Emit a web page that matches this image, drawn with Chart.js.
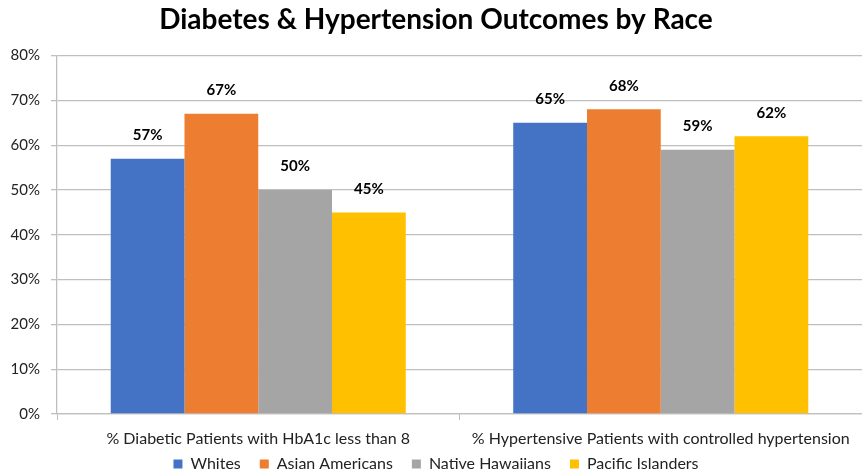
<!DOCTYPE html>
<html>
<head>
<meta charset="utf-8">
<script src="https://cdn.jsdelivr.net/npm/chart.js@4"></script>
<style>
  html, body { margin: 0; padding: 0; background: #fff; }
  #wrap { width: 862px; height: 472px; }
</style>
</head>
<body>
<div id="wrap"><canvas id="chart"></canvas></div>
<script>
// data
const categories = [
    '% Diabetic Patients with HbA1c less than 8',
    '% Hypertensive Patients with controlled hypertension'
];
const seriesNames = ['Whites', 'Asian Americans', 'Native Hawaiians', 'Pacific Islanders'];
const whites = [57, 65];
const asianAmericans = [67, 68];
const nativeHawaiians = [50, 59];
const pacificIslanders = [45, 62];
const seriesColors = ['#4472C4', '#ED7D31', '#A5A5A5', '#FFC000'];
const yTicks = [0, 10, 20, 30, 40, 50, 60, 70, 80];

const FONT = 'Lato, "Liberation Sans", sans-serif';
const values = [whites, asianAmericans, nativeHawaiians, pacificIslanders];

// value labels above each bar
const barLabels = {
    id: 'barLabels',
    afterDatasetsDraw(chart) {
        const ctx = chart.ctx;
        ctx.save();
        ctx.font = 'bold 15px ' + FONT;
        ctx.fillStyle = '#000';
        ctx.textAlign = 'center';
        ctx.textBaseline = 'bottom';
        chart.data.datasets.forEach((ds, i) => {
            chart.getDatasetMeta(i).data.forEach((bar, j) => {
                ctx.fillText(ds.data[j] + '%', bar.x, bar.y - 16);
            });
        });
        ctx.restore();
    }
};

new Chart(document.getElementById('chart'), {
    type: 'bar',
    data: {
        labels: categories,
        datasets: seriesNames.map((name, i) => ({
            label: name,
            data: values[i],
            backgroundColor: seriesColors[i],
            categoryPercentage: 0.733,
            barPercentage: 1.0
        }))
    },
    options: {
        responsive: true,
        maintainAspectRatio: false,
        animation: false,
        layout: { padding: { left: 10, right: 0, top: 0, bottom: -10 } },
        plugins: {
            title: {
                display: true,
                text: 'Diabetes & Hypertension Outcomes by Race',
                color: '#000',
                font: { family: FONT, size: 28, weight: 'bold' },
                padding: { top: 3, bottom: 19 }
            },
            legend: {
                position: 'bottom',
                labels: {
                    color: '#222',
                    font: { family: FONT, size: 16 },
                    boxWidth: 9,
                    boxHeight: 9,
                    padding: 5,
                    // small row padding, so the gap between items comes from trailing spaces
                    generateLabels: chart => Chart.defaults.plugins.legend.labels.generateLabels(chart)
                        .map((item, i, all) => ({ ...item, text: i < all.length - 1 ? item.text + '\u2003\u2009' : item.text }))
                }
            },
            tooltip: { enabled: false }
        },
        scales: {
            y: {
                min: 0,
                max: 80,
                afterBuildTicks: axis => { axis.ticks = yTicks.map(v => ({ value: v })); },
                afterFit: axis => { axis.width = 47; },
                ticks: {
                    color: '#222',
                    font: { family: FONT, size: 15 },
                    padding: 11,
                    callback: v => v + '%'
                },
                grid: { color: '#BFBFBF', lineWidth: 1.3, tickLength: 6 },
                border: { color: '#BFBFBF', width: 1.3 }
            },
            x: {
                afterFit: axis => { axis.height = 37; },
                ticks: {
                    color: '#222',
                    font: { family: FONT, size: 16 },
                    padding: 9,
                    maxRotation: 0
                },
                grid: { drawOnChartArea: false, color: '#BFBFBF', tickLength: 6 },
                border: { color: '#BFBFBF', width: 1.3 }
            }
        }
    },
    plugins: [barLabels]
});
</script>
</body>
</html>
